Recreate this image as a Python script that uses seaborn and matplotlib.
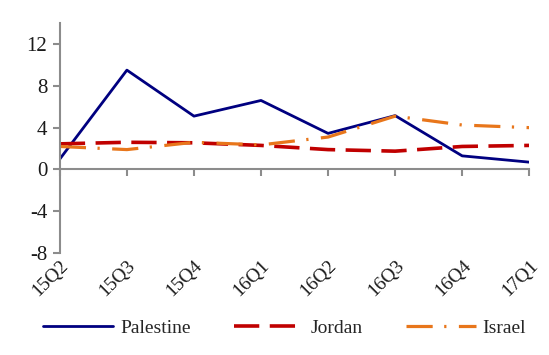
import matplotlib
matplotlib.use("Agg")
import matplotlib.pyplot as plt
import seaborn as sns
import pandas as pd

quarters = ["15Q2", "15Q3", "15Q4", "16Q1", "16Q2", "16Q3", "16Q4", "17Q1"]
palestine = [1.0, 9.5, 5.1, 6.6, 3.45, 5.15, 1.3, 0.7]
jordan = [2.45, 2.6, 2.55, 2.3, 1.9, 1.75, 2.2, 2.3]
israel = [2.2, 1.9, 2.6, 2.35, 3.1, 5.1, 4.25, 4.0]
y_ticks = [-8, -4, 0, 4, 8, 12]

series = {"Palestine": palestine, "Jordan": jordan, "Israel": israel}
df = pd.DataFrame(
    [(q, name, v) for name, vals in series.items() for q, v in zip(quarters, vals)],
    columns=["quarter", "country", "value"],
)

sns.set_theme(style="white")
plt.rcParams["font.family"] = ["Liberation Serif", "DejaVu Serif"]
plt.rcParams["axes.unicode_minus"] = False

fig = plt.figure(figsize=(5.49, 3.55), dpi=100)
ax = fig.add_axes([0.109, 0.287, 0.855, 0.648])

palette = {"Palestine": "#000080", "Jordan": "#C00000", "Israel": "#E8761B"}
dashes = {"Palestine": "", "Jordan": (7, 2.9), "Israel": (8.2, 3.6, 0.7, 3.9)}
sns.lineplot(data=df, x="quarter", y="value", hue="country", style="country",
             palette=palette, dashes=dashes, sort=False, ax=ax)
widths = {"Palestine": 2.0, "Jordan": 2.6, "Israel": 2.3}
for line, name in zip(ax.lines, series):
    line.set_linewidth(widths[name])

ymin, ymax = -8, 14
ax.set_ylim(ymin, ymax)
ax.set_xlim(0, len(quarters) - 1)
ax.set_yticks(y_ticks)
ax.set_xlabel("")
ax.set_ylabel("")

spine_c = "#8c8c8c"
for s in ["top", "right", "bottom"]:
    ax.spines[s].set_visible(False)
ax.spines["left"].set_color(spine_c)
ax.spines["left"].set_linewidth(1.5)
ax.tick_params(axis="y", which="major", left=True, length=5, width=1.5,
               color=spine_c, labelsize=15, pad=4, labelcolor="#1a1a1a")
ax.tick_params(axis="x", which="major", bottom=False, length=0,
               labelsize=14, pad=3, labelcolor="#1a1a1a")
plt.setp(ax.get_xticklabels(), rotation=45, ha="right", rotation_mode="anchor")

# zero line carrying the category ticks
zero_pos = (0 - ymin) / (ymax - ymin)
sec = ax.secondary_xaxis(zero_pos)
sec.set_xticks(range(len(quarters)))
sec.set_xticklabels([])
sec.tick_params(axis="x", length=5, width=1.5, color=spine_c, direction="out")
sec.spines["bottom"].set_color(spine_c)
sec.spines["bottom"].set_linewidth(1.5)
for s in ["top", "left", "right"]:
    sec.spines[s].set_visible(False)

handles, labels = ax.get_legend_handles_labels()
for h, lab in zip(handles, labels):
    h.set_linewidth(widths[lab])
    if dashes[lab]:
        h.set_dashes(dashes[lab])
ax.legend(handles, labels, loc="center", bbox_to_anchor=(0.479, -0.326),
          ncol=3, frameon=False, fontsize=14, handlelength=3.6,
          columnspacing=2.2, handletextpad=0.36, borderpad=0, borderaxespad=0)

fig.savefig("out.png", dpi=100)
